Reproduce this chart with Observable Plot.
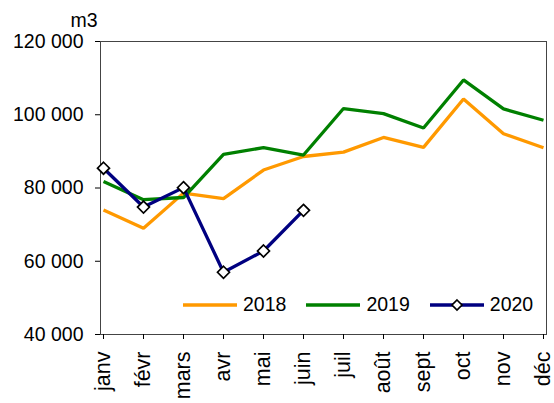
<!DOCTYPE html>
<html>
<head>
<meta charset="utf-8">
<script src="https://cdn.jsdelivr.net/npm/d3@7"></script>
<script src="https://cdn.jsdelivr.net/npm/@observablehq/plot@0.6"></script>
<style>
  html, body { margin: 0; padding: 0; background: #fff; }
  #wrap { position: relative; width: 554px; height: 403px; font-family: "Liberation Sans", Arial, sans-serif; }
  #legend { position: absolute; left: 183px; top: 293px; display: flex; align-items: center; font-size: 19.5px; color: #000; }
  .item { display: flex; align-items: center; margin-right: 20px; }
  .item span { margin-left: 6px; }
</style>
</head>
<body>
<div id="wrap"></div>
<script>
const months = ["janv","févr","mars","avr","mai","juin","juil","août","sept","oct","nov","déc"];
const years = ["2018","2019","2020"];
const colors = ["#FF9900","#008000","#000080"];
const v2018 = [74000,69000,78600,77100,84900,88600,89800,93800,91100,104300,94800,91000];
const v2019 = [81800,76800,77400,89200,91000,89000,101700,100300,96400,109500,101600,98500];
const v2020 = [85400,74800,80100,57000,62800,73900];
const yTicks = [40000,60000,80000,100000,120000];
const unitLabel = "m3";

const series = [v2018, v2019, v2020];
const rows = [];
series.forEach((vals, i) => vals.forEach((v, j) => rows.push({year: years[i], month: months[j], value: v})));
const rows2020 = rows.filter(d => d.year === "2020");

const fmt = d => d3.format(",")(d).replace(/,/g, " ");

const chart = Plot.plot({
  width: 554,
  height: 403,
  marginLeft: 100,
  marginRight: 8,
  marginTop: 41,
  marginBottom: 69,
  style: {fontFamily: "'Liberation Sans', Arial, sans-serif", fontSize: "19.5px", color: "#000", background: "#fff"},
  x: {type: "point", domain: months, padding: 0},
  y: {domain: [40000, 120000]},
  color: {domain: years, range: colors},
  marks: [
    Plot.frame({stroke: "#444", strokeWidth: 1}),
    Plot.axisY({ticks: yTicks, tickSize: 5, tickPadding: 12, tickFormat: fmt, label: null, stroke: "#000"}),
    Plot.axisX({tickSize: 5, tickRotate: -90, tickPadding: 12, label: null, stroke: "#000", fontSize: 21.5}),
    Plot.line(rows, {x: "month", y: "value", z: "year", stroke: "year", strokeWidth: 3.3, strokeLinejoin: "miter", strokeLinecap: "butt"}),
    Plot.dot(rows2020, {x: "month", y: "value", symbol: "diamond2", r: 5.4, fill: "#fff", stroke: "#000", strokeWidth: 1.7}),
    Plot.text([unitLabel], {frameAnchor: "top-left", text: d => d, textAnchor: "end", lineAnchor: "bottom", dx: -3, dy: -15, fontSize: 19.5})
  ]
});
const wrap = document.getElementById("wrap");
wrap.appendChild(chart);

// legend overlay
const legend = document.createElement("div");
legend.id = "legend";
years.forEach((y, i) => {
  const item = document.createElement("div");
  item.className = "item";
  const svg = d3.create("svg").attr("width", 54).attr("height", 14);
  svg.append("line").attr("x1", 0).attr("x2", 54).attr("y1", 7).attr("y2", 7)
    .attr("stroke", colors[i]).attr("stroke-width", 3.3);
  if (y === "2020") {
    svg.append("path").attr("d", "M27,2L32,7L27,12L22,7Z").attr("fill", "#fff").attr("stroke", "#000").attr("stroke-width", 1.7);
  }
  item.appendChild(svg.node());
  const s = document.createElement("span");
  s.textContent = y;
  item.appendChild(s);
  legend.appendChild(item);
});
wrap.appendChild(legend);
</script>
</body>
</html>
